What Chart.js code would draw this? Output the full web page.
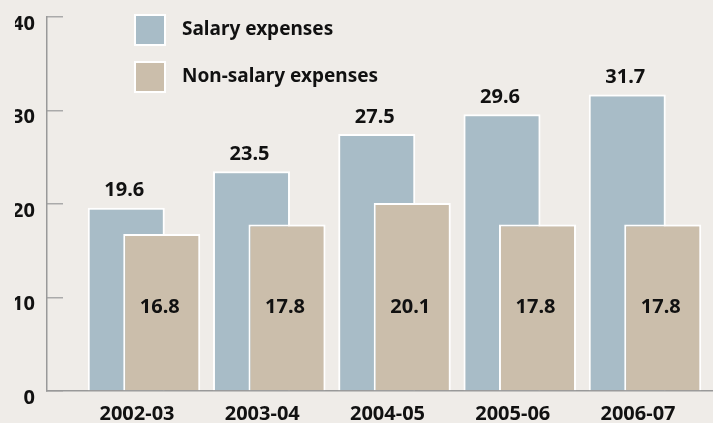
<!DOCTYPE html>
<html>
<head>
<meta charset="utf-8">
<script src="https://cdn.jsdelivr.net/npm/chart.js@4"></script>
<style>
  body { margin: 0; background: #efece8; }
  #wrap { width: 713px; height: 423px; }
</style>
</head>
<body>
<div id="wrap"><canvas id="expChart"></canvas></div>
<script>
const years = ["2002-03", "2003-04", "2004-05", "2005-06", "2006-07"];
const salary = [19.6, 23.5, 27.5, 29.6, 31.7];
const nonSalary = [16.8, 17.8, 20.1, 17.8, 17.8];
const yTicks = [0, 10, 20, 30, 40];

const font = "'Noto Sans', sans-serif";

// draw salary first so the non-salary bar sits on top of it
const drawOrderPlugin = {
  id: "drawOrder",
  beforeDatasetsDraw: function (chart) {
    chart.getDatasetMeta(0).controller.draw();
    chart.getDatasetMeta(1).controller.draw();
    return false;
  },
};

// value labels + the boxed legend in the top-left
const labelPlugin = {
  id: "labelPlugin",
  afterDraw: function (chart) {
    const ctx = chart.ctx;
    const y = chart.scales.y;
    ctx.save();
    ctx.fillStyle = "#111";
    ctx.font = "bold 20px " + font;
    ctx.textAlign = "center";
    ctx.textBaseline = "middle";

    chart.getDatasetMeta(0).data.forEach(function (bar, i) {
      ctx.fillText(salary[i].toFixed(1), bar.x - 2, bar.y - 17);
    });
    chart.getDatasetMeta(1).data.forEach(function (bar, i) {
      ctx.fillText(nonSalary[i].toFixed(1), bar.x - 2, y.getPixelForValue(9));
    });

    // legend
    const left = chart.chartArea.left + 87;
    const tops = [14, 61];
    ctx.font = "bold 19px " + font;
    ctx.textAlign = "left";
    chart.data.datasets.forEach(function (ds, i) {
      ctx.fillStyle = "#fff";
      ctx.fillRect(left, tops[i], 32, 32);
      ctx.fillStyle = ds.backgroundColor;
      ctx.fillRect(left + 2, tops[i] + 2, 28, 28);
      ctx.fillStyle = "#111";
      ctx.fillText(ds.label, left + 48, tops[i] + 16);
    });
    ctx.restore();
  },
};

const ctx = document.getElementById("expChart").getContext("2d");
const expChart = new Chart(ctx, {
  type: "bar",
  data: {
    datasets: [
      {
        label: "Salary expenses",
        data: salary.map((v, i) => ({ x: i, y: v })),
        backgroundColor: "#a8bcc7",
        borderColor: "#ffffff",
        borderWidth: 2,
      },
      {
        label: "Non-salary expenses",
        data: nonSalary.map((v, i) => ({ x: i, y: v })),
        backgroundColor: "#cbbeab",
        borderColor: "#ffffff",
        borderWidth: 2,
      },
    ],
  },
  options: {
    responsive: true,
    maintainAspectRatio: false,
    animation: false,
    categoryPercentage: 0.567,
    barPercentage: 2.17,
    layout: {
      padding: { left: 15, right: 0, top: 17, bottom: 1 },
    },
    plugins: {
      legend: { display: false },
      tooltip: { enabled: false },
    },
    scales: {
      x: {
        type: "linear",
        offset: false,
        min: -0.7745,
        max: 4.543,
        grid: { display: false, drawTicks: false, offset: false },
        border: { display: true, color: "#999", width: 1.5 },
        afterFit: function (axis) {
          axis.height = 31;
          axis.paddingLeft = 0;
          axis.paddingRight = 0;
        },
        ticks: {
          stepSize: 1,
          includeBounds: false,
          autoSkip: false,
          maxRotation: 0,
          padding: 13,
          labelOffset: -7,
          color: "#111",
          font: { family: font, size: 20, weight: "bold", lineHeight: 1 },
          callback: function (v) {
            return years[v] !== undefined ? years[v] : "";
          },
        },
      },
      y: {
        min: yTicks[0],
        max: yTicks[yTicks.length - 1],
        grid: {
          drawOnChartArea: false,
          drawTicks: true,
          tickLength: -16,
          color: "#aaa",
          lineWidth: 1.5,
        },
        border: { display: true, color: "#999", width: 1.5 },
        afterBuildTicks: function (axis) {
          axis.ticks = yTicks.map((v) => ({ value: v }));
        },
        afterFit: function (axis) {
          axis.width = 32;
          axis.paddingTop = 0;
          axis.paddingBottom = 0;
        },
        ticks: {
          padding: 28,
          labelOffset: 7,
          color: "#111",
          font: { family: font, size: 20, weight: "bold" },
        },
      },
    },
  },
  plugins: [drawOrderPlugin, labelPlugin],
});
</script>
</body>
</html>
